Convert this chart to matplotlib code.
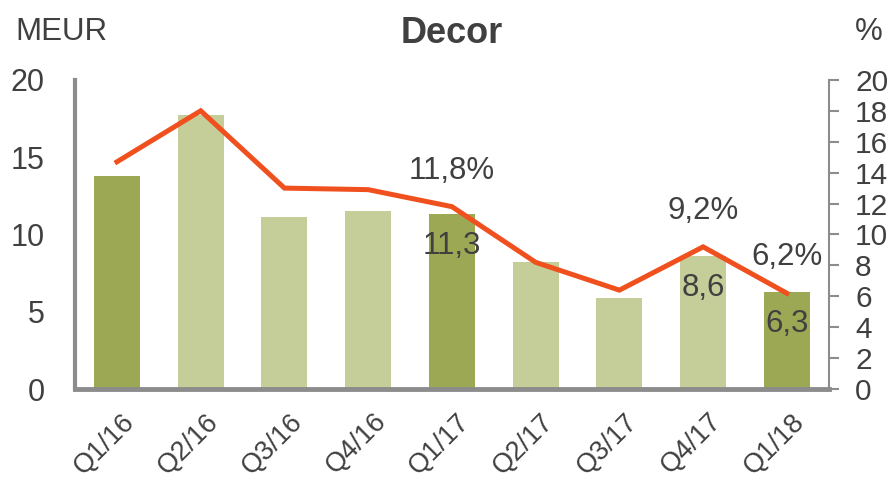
import matplotlib.pyplot as plt
import matplotlib.transforms as mtransforms

plt.rcParams['font.family'] = ['Liberation Sans', 'DejaVu Sans']

# data
quarters = ['Q1/16', 'Q2/16', 'Q3/16', 'Q4/16', 'Q1/17', 'Q2/17', 'Q3/17', 'Q4/17', 'Q1/18']
ebitda = [13.8, 17.7, 11.1, 11.5, 11.3, 8.2, 5.9, 8.6, 6.3]
margin = [14.7, 18.0, 13.0, 12.9, 11.8, 8.2, 6.4, 9.2, 6.2]
q1_flags = [True, False, False, False, True, False, False, False, True]
bar_labels = {4: '11,3', 7: '8,6', 8: '6,3'}
line_labels = {4: '11,8%', 7: '9,2%', 8: '6,2%'}

dark_green = '#9DA855'
light_green = '#C5CD98'
orange = '#F0501E'
grey = '#8C8C8C'
text_col = '#404040'

fig = plt.figure(figsize=(8.94, 4.87), dpi=100)
ax = fig.add_axes([0.084, 0.201, 0.843, 0.635])
ax2 = ax.twinx()

x = list(range(len(quarters)))
colors = [dark_green if f else light_green for f in q1_flags]
ax.bar(x, ebitda, width=0.55, color=colors, zorder=2)
ax2.plot(x, margin, color=orange, lw=3.6, zorder=3, solid_joinstyle='miter')

ax.set_xlim(-0.5, len(quarters) - 0.5)
ax.set_ylim(0, 20)
ax2.set_ylim(0, 20)
ax.set_yticks([0, 5, 10, 15, 20])
ax2.set_yticks(range(0, 21, 2))

for side in ['top', 'right']:
    ax.spines[side].set_visible(False)
for side in ['top', 'left', 'bottom']:
    ax2.spines[side].set_visible(False)
ax.spines['left'].set_color(grey)
ax.spines['left'].set_linewidth(3)
ax.spines['bottom'].set_color(grey)
ax.spines['bottom'].set_linewidth(3.5)
ax2.spines['right'].set_color(grey)
ax2.spines['right'].set_linewidth(1.5)

ax.tick_params(axis='y', length=0, labelsize=22, labelcolor=text_col, pad=22)
ax.tick_params(axis='x', length=0, labelsize=19.5, labelcolor=text_col, pad=14)
ax2.tick_params(axis='y', length=7, width=1.5, color=grey, labelsize=21.5,
                labelcolor=text_col, pad=12)
ax.set_xticks(x)
ax.set_xticklabels(quarters, rotation=45, ha='right', rotation_mode='anchor')
shift = mtransforms.ScaledTranslation(0.05, 0, fig.dpi_scale_trans)
for lbl in ax.get_xticklabels():
    lbl.set_transform(lbl.get_transform() + shift)

for i, lab in bar_labels.items():
    ax.annotate(lab, (i, ebitda[i]), xytext=(0, -23), textcoords='offset points',
                ha='center', va='center', fontsize=22.5, color=text_col, zorder=4)
for i, lab in line_labels.items():
    ax2.annotate(lab, (i, margin[i]), xytext=(0, 26), textcoords='offset points',
                 ha='center', va='center', fontsize=22.5, color=text_col, zorder=4)

fig.text(0.017, 0.935, 'MEUR', fontsize=22.5, color=text_col, va='center', ha='left')
fig.text(0.972, 0.935, '%', fontsize=22.5, color=text_col, va='center', ha='center')
fig.text(0.505, 0.932, 'Decor', fontsize=26, fontweight='bold', color=text_col,
         va='center', ha='center')

fig.savefig('out.png', dpi=100)
